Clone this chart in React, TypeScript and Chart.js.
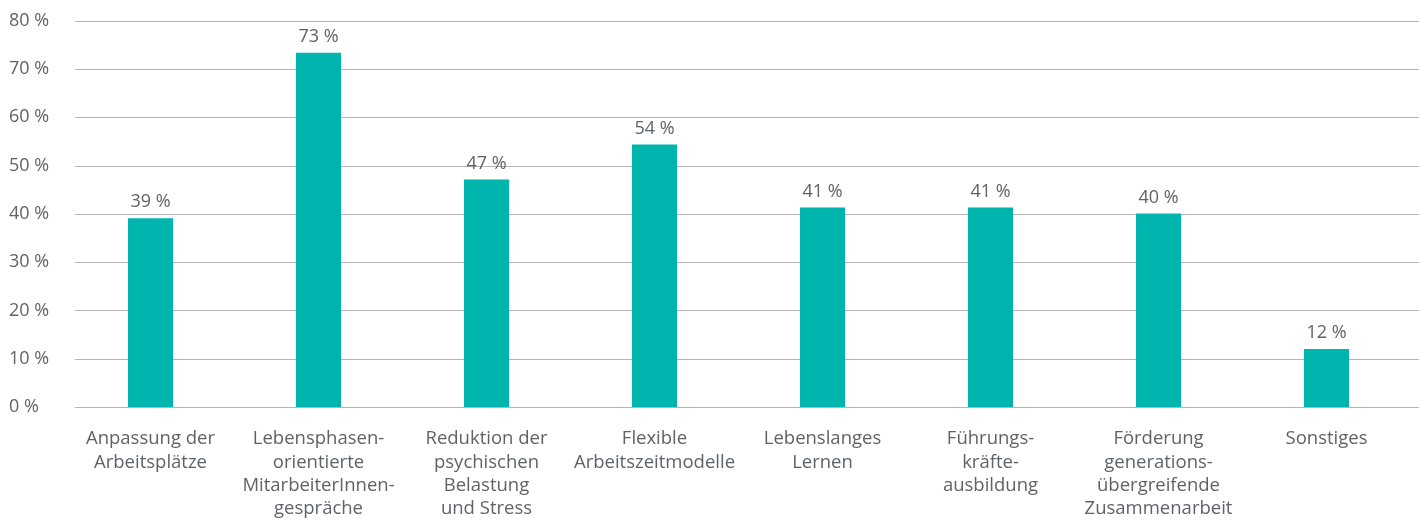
import React, { useEffect, useRef } from "react";
import { Chart, registerables } from "chart.js";

Chart.register(...registerables);

const categories: string[][] = [
  ["Anpassung der", "Arbeitsplätze"],
  ["Lebensphasen-", "orientierte", "MitarbeiterInnen-", "gespräche"],
  ["Reduktion der", "psychischen", "Belastung", "und Stress"],
  ["Flexible", "Arbeitszeitmodelle"],
  ["Lebenslanges", "Lernen"],
  ["Führungs-", "kräfte-", "ausbildung"],
  ["Förderung", "generations-", "übergreifende", "Zusammenarbeit"],
  ["Sonstiges"],
];

const values: number[] = [39.1, 73.4, 47.1, 54.4, 41.3, 41.3, 40.1, 12];

const yTicks: number[] = [0, 10, 20, 30, 40, 50, 60, 70, 80];

const BAR_COLOR = "#00b5ad";
const TEXT_COLOR = "#5f6368";
const GRID_COLOR = "#b4b4b4";
const FONT = "'Open Sans', sans-serif";

const gridPlugin = {
  id: "customGrid",
  beforeDatasetsDraw(chart: any) {
    const { ctx, chartArea } = chart;
    const yScale = chart.scales.y;
    ctx.save();
    ctx.strokeStyle = GRID_COLOR;
    ctx.lineWidth = 1;
    yTicks.forEach((v) => {
      const y = Math.round(yScale.getPixelForValue(v)) + 0.5;
      ctx.beginPath();
      ctx.moveTo(chartArea.left + 8.5, y);
      ctx.lineTo(chart.width, y);
      ctx.stroke();
    });
    ctx.restore();
  },
};

const valueLabelPlugin = {
  id: "valueLabels",
  afterDatasetsDraw(chart: any) {
    const { ctx } = chart;
    const meta = chart.getDatasetMeta(0);
    ctx.save();
    ctx.font = `18px ${FONT}`;
    ctx.fillStyle = TEXT_COLOR;
    ctx.textAlign = "center";
    ctx.textBaseline = "bottom";
    meta.data.forEach((bar: any, i: number) => {
      ctx.fillText(`${Math.round(values[i])} %`, bar.x, bar.y - 7);
    });
    ctx.restore();
  },
};

export default function App() {
  const canvasRef = useRef<HTMLCanvasElement | null>(null);

  useEffect(() => {
    if (!canvasRef.current) return;
    const chart = new Chart(canvasRef.current, {
      type: "bar",
      data: {
        labels: categories,
        datasets: [
          {
            data: values,
            backgroundColor: BAR_COLOR,
            barPercentage: 1,
            categoryPercentage: 0.268,
          },
        ],
      },
      options: {
        animation: false,
        responsive: true,
        maintainAspectRatio: false,
        layout: { padding: { top: 5, left: 9, right: 8.5, bottom: 0 } },
        plugins: {
          legend: { display: false },
          tooltip: { enabled: false },
        },
        scales: {
          x: {
            grid: { display: false },
            border: { display: false },
            afterFit: (axis: any) => {
              axis.height = 114;
            },
            ticks: {
              color: TEXT_COLOR,
              font: { family: FONT, size: 18.5, lineHeight: 1.27 },
              padding: 12,
              maxRotation: 0,
              autoSkip: false,
            },
          },
          y: {
            min: 0,
            max: 80,
            afterBuildTicks: (axis: any) => {
              axis.ticks = yTicks.map((v) => ({ value: v }));
            },
            afterFit: (axis: any) => {
              axis.width = 57.5;
            },
            grid: { display: false },
            border: { display: false },
            ticks: {
              color: TEXT_COLOR,
              font: { family: FONT, size: 18 },
              padding: 10,
              crossAlign: "far",
              callback: (v: any) => `${v} %`,
            },
          },
        },
      },
      plugins: [gridPlugin, valueLabelPlugin],
    });
    return () => chart.destroy();
  }, []);

  return (
    <div style={{ position: "absolute", left: 0, top: 0, width: 1419, height: 521 }}>
      <canvas ref={canvasRef} />
    </div>
  );
}
